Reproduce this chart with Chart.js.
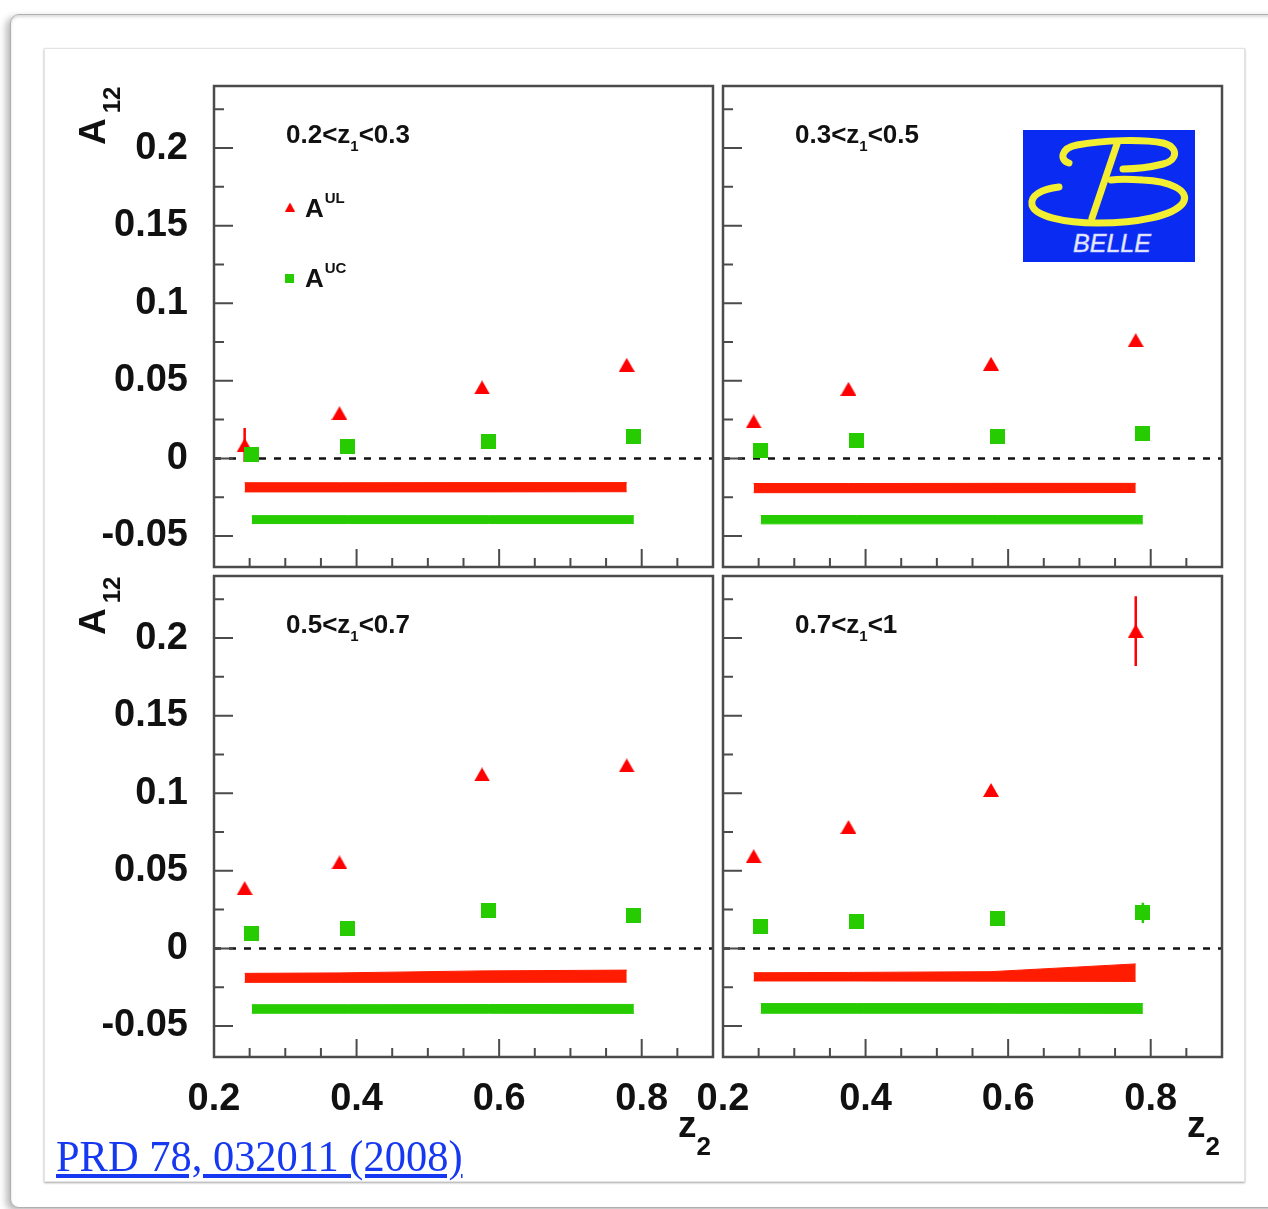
<!DOCTYPE html>
<html>
<head>
<meta charset="utf-8">
<script src="https://cdn.jsdelivr.net/npm/chart.js@4.4.1/dist/chart.umd.min.js"></script>
<style>
  html, body { margin: 0; padding: 0; background: #fff; }
  #page { position: relative; width: 1268px; height: 1209px; overflow: hidden; background: #fff; }
  #outer { position: absolute; left: 10px; top: 14px; width: 1300px; height: 1192px; border: 1px solid #b0b0b0;
           border-radius: 9px; background: #fff;
           box-shadow: -4px 3px 7px rgba(0,0,0,0.28), inset 0 2px 3px rgba(0,0,0,0.14); }
  #inner { position: absolute; left: 44px; top: 48px; width: 1199px; height: 1132px; border: 1px solid #e3e3e3;
           background: #fff; box-shadow: 0 1px 2px rgba(0,0,0,0.35); }
  canvas { position: absolute; left: 0; top: 0; }
  #logo { position: absolute; left: 1023px; top: 130px; }
  #ref { position: absolute; left: 56px; top: 1135px; font: 44px "Liberation Serif", "Times New Roman", serif;
         line-height: 44px; color: #1638f0; text-decoration: underline; white-space: nowrap;
         transform: scaleX(0.965); transform-origin: left top; }
</style>
</head>
<body>
<div id="page">
  <div id="outer"></div>
  <div id="inner"></div>
  <canvas id="c0" width="1268" height="1209"></canvas>
  <canvas id="c1" width="1268" height="1209"></canvas>
  <canvas id="c2" width="1268" height="1209"></canvas>
  <canvas id="c3" width="1268" height="1209"></canvas>
  <svg id="logo" width="172" height="132" viewBox="0 0 172 132">
    <rect width="172" height="132" fill="#0a2cf2"/>
    <g fill="none" stroke="#f2ee32" stroke-width="7" stroke-linecap="round">
      <path d="M46,33 C36,30 38,18 54,15 C80,10 120,9 140,13 C156,17 155,30 140,34 C128,37 110,39 100,39"/>
      <path d="M94,14 L69,88"/>
      <path d="M36,57 C18,59 7,66 9,75 C12,86 40,93 75,93 C115,93 150,86 160,73 C168,60 145,51 120,50 C105,49 95,49 88,50"/>
    </g>
    <text x="89" y="122" text-anchor="middle" font-family="Liberation Sans, Arial, sans-serif" font-style="italic"
          font-size="26" fill="#eef0ff" stroke="#b9c0ff" stroke-width="0.6" textLength="78" lengthAdjust="spacingAndGlyphs">BELLE</text>
  </svg>
  <div id="ref">PRD 78, 032011 (2008)</div>
</div>
<script>
// axes
const z2Ticks = [0.2, 0.4, 0.6, 0.8];
const z2TickLabels = ['0.2', '0.4', '0.6', '0.8'];
const z2Minor = [0.25, 0.3, 0.35, 0.45, 0.5, 0.55, 0.65, 0.7, 0.75, 0.85];
const a12Ticks = [-0.05, 0, 0.05, 0.1, 0.15, 0.2];
const a12TickLabels = ['-0.05', '0', '0.05', '0.1', '0.15', '0.2'];
const a12Minor = [-0.025, 0.025, 0.075, 0.125, 0.175, 0.225];

// one panel per z1 bin
const z1Bins = [['0.2', '0.3'], ['0.3', '0.5'], ['0.5', '0.7'], ['0.7', '1']];
const legendMain = ['A', 'A'];
const legendSup = ['UL', 'UC'];

// mean z2 of each bin (UC drawn slightly shifted)
const ulZ2 = [0.243, 0.376, 0.576, 0.779];
const ucZ2 = [0.253, 0.387, 0.585, 0.789];

// A^UL
const ulA12 = [
  [0.0086, 0.0291, 0.0457, 0.0603],
  [0.0238, 0.0448, 0.0610, 0.0762],
  [0.0388, 0.0554, 0.1121, 0.1179],
  [0.0594, 0.0782, 0.1021, 0.2045]
];
const ulErr = [
  [0.011, 0.002, 0.002, 0.002],
  [0.002, 0.002, 0.002, 0.002],
  [0.002, 0.002, 0.002, 0.002],
  [0.002, 0.002, 0.002, 0.0225]
];
// A^UC
const ucA12 = [
  [0.0026, 0.0075, 0.0112, 0.0144],
  [0.0054, 0.0113, 0.0141, 0.0162],
  [0.0097, 0.0129, 0.0242, 0.0215],
  [0.0144, 0.0172, 0.0193, 0.0229]
];
const ucErr = [
  [0.002, 0.002, 0.002, 0.002],
  [0.002, 0.002, 0.002, 0.002],
  [0.002, 0.002, 0.002, 0.002],
  [0.002, 0.002, 0.002, 0.0065]
];
// systematic bands, upper and lower edge
const ulSysHi = [
  [-0.0157, -0.0157, -0.0156, -0.0156],
  [-0.0162, -0.0162, -0.0161, -0.0161],
  [-0.0161, -0.0158, -0.0145, -0.0140],
  [-0.0157, -0.0155, -0.0150, -0.0100]
];
const ulSysLo = [
  [-0.0216, -0.0216, -0.0216, -0.0215],
  [-0.0221, -0.0221, -0.0221, -0.0220],
  [-0.0219, -0.0219, -0.0219, -0.0218],
  [-0.0210, -0.0210, -0.0211, -0.0213]
];
const ucSysHi = [
  [-0.0369, -0.0369, -0.0369, -0.0369],
  [-0.0368, -0.0368, -0.0368, -0.0368],
  [-0.0363, -0.0363, -0.0362, -0.0361],
  [-0.0356, -0.0356, -0.0356, -0.0355]
];
const ucSysLo = [
  [-0.0420, -0.0420, -0.0420, -0.0420],
  [-0.0422, -0.0422, -0.0422, -0.0422],
  [-0.0418, -0.0418, -0.0418, -0.0419],
  [-0.0418, -0.0418, -0.0418, -0.0419]
];

const W = 1268, H = 1209;
const frames = [
  { left: 214, top: 86, right: 713, bottom: 567 },
  { left: 723, top: 86, right: 1222, bottom: 567 },
  { left: 214, top: 576, right: 713, bottom: 1057 },
  { left: 723, top: 576, right: 1222, bottom: 1057 }
];

const RED = '#ff0000', BAND_RED = '#ff1c00', GREEN = '#27cc00', FRAME = '#4b4b4b';
const FONT = '"Liberation Sans", Arial, Helvetica, sans-serif';

function markerCanvas(kind, w, h, color) {
  const c = document.createElement('canvas');
  c.width = w; c.height = h;
  const g = c.getContext('2d');
  g.fillStyle = color;
  g.beginPath();
  if (kind === 'tri') { g.moveTo(w / 2, 0); g.lineTo(w, h); g.lineTo(0, h); g.closePath(); }
  else g.rect(0, 0, w, h);
  g.fill();
  return c;
}
const triImg = markerCanvas('tri', 16, 14, RED);
const sqImg = markerCanvas('sq', 15, 15, GREEN);
const legTri = markerCanvas('tri', 10, 9, RED);
const legSq = markerCanvas('sq', 9, 9, GREEN);

function drawRich(ctx, x, y, parts) {
  parts.forEach(p => {
    ctx.font = 'bold ' + p.size + 'px ' + FONT;
    ctx.fillText(p.text, x, y + (p.dy || 0));
    x += ctx.measureText(p.text).width + (p.gap || 0);
  });
}

const errorBars = {
  id: 'errorBars',
  beforeDatasetsDraw(chart) {
    const { ctx, scales: { x, y } } = chart;
    chart.data.datasets.forEach(ds => {
      if (!ds.errors) return;
      ctx.save();
      ctx.strokeStyle = ds.barColor;
      ctx.lineWidth = 2.5;
      ctx.beginPath();
      ds.data.forEach((p, k) => {
        const px = x.getPixelForValue(p.x);
        ctx.moveTo(px, y.getPixelForValue(p.y + ds.errors[k]));
        ctx.lineTo(px, y.getPixelForValue(p.y - ds.errors[k]));
      });
      ctx.stroke();
      ctx.restore();
    });
  }
};

function decor(i, showX, showY) {
  return {
    id: 'decor' + i,
    afterDraw(chart) {
      const { ctx, chartArea: a, scales: { x, y } } = chart;
      ctx.save();
      // inner ticks + frame
      ctx.strokeStyle = FRAME;
      ctx.lineWidth = 2;
      ctx.beginPath();
      z2Ticks.concat(z2Minor).forEach(v => {
        const px = x.getPixelForValue(v);
        const len = z2Ticks.includes(v) ? 18 : 9;
        ctx.moveTo(px, a.bottom); ctx.lineTo(px, a.bottom - len);
      });
      a12Ticks.concat(a12Minor).forEach(v => {
        const py = y.getPixelForValue(v);
        const len = a12Ticks.includes(v) ? 19 : 10;
        ctx.moveTo(a.left, py); ctx.lineTo(a.left + len, py);
      });
      ctx.stroke();
      ctx.lineWidth = 2.5;
      ctx.strokeRect(a.left, a.top, a.right - a.left, a.bottom - a.top);

      // bin label
      ctx.fillStyle = '#111';
      const bin = z1Bins[i];
      drawRich(ctx, a.left + 72, a.top + 57, [
        { text: bin[0] + '<z', size: 26 },
        { text: '1', size: 15, dy: 8 },
        { text: '<' + bin[1], size: 26 }
      ]);

      // legend in first panel
      if (i === 0) {
        ctx.drawImage(legTri, a.left + 71, a.top + 116.5);
        drawRich(ctx, a.left + 91, a.top + 131, [{ text: legendMain[0], size: 26, gap: 1 }, { text: legendSup[0], size: 15, dy: -14 }]);
        ctx.drawImage(legSq, a.left + 70.5, a.top + 187.5);
        drawRich(ctx, a.left + 91, a.top + 201, [{ text: legendMain[1], size: 26, gap: 1 }, { text: legendSup[1], size: 15, dy: -14 }]);
      }

      // axis titles
      if (showY) {
        ctx.save();
        ctx.translate(a.left - 109, a.top + 59);
        ctx.rotate(-Math.PI / 2);
        drawRich(ctx, 0, 0, [{ text: 'A', size: 37, gap: 5 }, { text: '12', size: 24, dy: 15 }]);
        ctx.restore();
      }
      if (showX) {
        drawRich(ctx, a.right - 35, a.bottom + 80, [{ text: 'z', size: 37 }, { text: '2', size: 26, dy: 18 }]);
      }
      ctx.restore();
    }
  };
}

function pts(xs, ys) { return xs.map((v, k) => ({ x: v, y: ys[k] })); }

function makePanel(i) {
  const f = frames[i];
  const showY = i % 2 === 0, showX = i >= 2;
  const yW = showY ? 120 : 0, xH = showX ? 70 : 0;
  const tickFont = { family: FONT, size: 38, weight: 'bold' };
  const band = (data, color, fill, order) => ({
    type: 'line', data, borderColor: color, borderWidth: 1, backgroundColor: color,
    pointRadius: 0, tension: 0, fill, order
  });
  new Chart(document.getElementById('c' + i), {
    type: 'scatter',
    data: {
      datasets: [
        band(pts(ulZ2, ulSysHi[i]), BAND_RED, '+1', 4),
        band(pts(ulZ2, ulSysLo[i]), BAND_RED, false, 4),
        band(pts(ucZ2, ucSysHi[i]), GREEN, '+1', 4),
        band(pts(ucZ2, ucSysLo[i]), GREEN, false, 4),
        { type: 'line', data: [{ x: 0.2, y: 0 }, { x: 0.9, y: 0 }], borderColor: '#111', borderWidth: 2.5,
          borderDash: [7, 8], pointRadius: 0, fill: false, order: 3 },
        { label: 'A^UL', data: pts(ulZ2, ulA12[i]), errors: ulErr[i], barColor: RED,
          pointStyle: triImg, pointRadius: 8, order: 2 },
        { label: 'A^UC', data: pts(ucZ2, ucA12[i]), errors: ucErr[i], barColor: GREEN,
          pointStyle: sqImg, pointRadius: 8, order: 1 }
      ]
    },
    options: {
      responsive: false,
      animation: false,
      events: [],
      devicePixelRatio: 1,
      layout: { padding: { left: f.left - yW, top: f.top, right: W - f.right, bottom: H - f.bottom - xH } },
      plugins: { legend: { display: false }, tooltip: { enabled: false }, title: { display: false } },
      scales: {
        x: {
          type: 'linear', position: 'bottom', min: 0.2, max: 0.9,
          afterBuildTicks: s => { s.ticks = z2Ticks.map(v => ({ value: v })); },
          afterFit: s => { s.height = xH; },
          grid: { display: false, drawTicks: false },
          border: { display: false },
          ticks: { display: showX, padding: 20, color: '#111', font: tickFont, autoSkip: false,
                   maxRotation: 0, minRotation: 0, callback: v => z2TickLabels[z2Ticks.indexOf(v)] }
        },
        y: {
          type: 'linear', position: 'left', min: -0.07, max: 0.24,
          afterBuildTicks: s => { s.ticks = a12Ticks.map(v => ({ value: v })); },
          afterFit: s => { s.width = yW; },
          grid: { display: false, drawTicks: false },
          border: { display: false },
          ticks: { display: showY, padding: 26, color: '#111', font: tickFont, autoSkip: false,
                   callback: v => a12TickLabels[a12Ticks.indexOf(v)] }
        }
      }
    },
    plugins: [errorBars, decor(i, showX, showY)]
  });
}

[0, 1, 2, 3].forEach(makePanel);
</script>
</body>
</html>
